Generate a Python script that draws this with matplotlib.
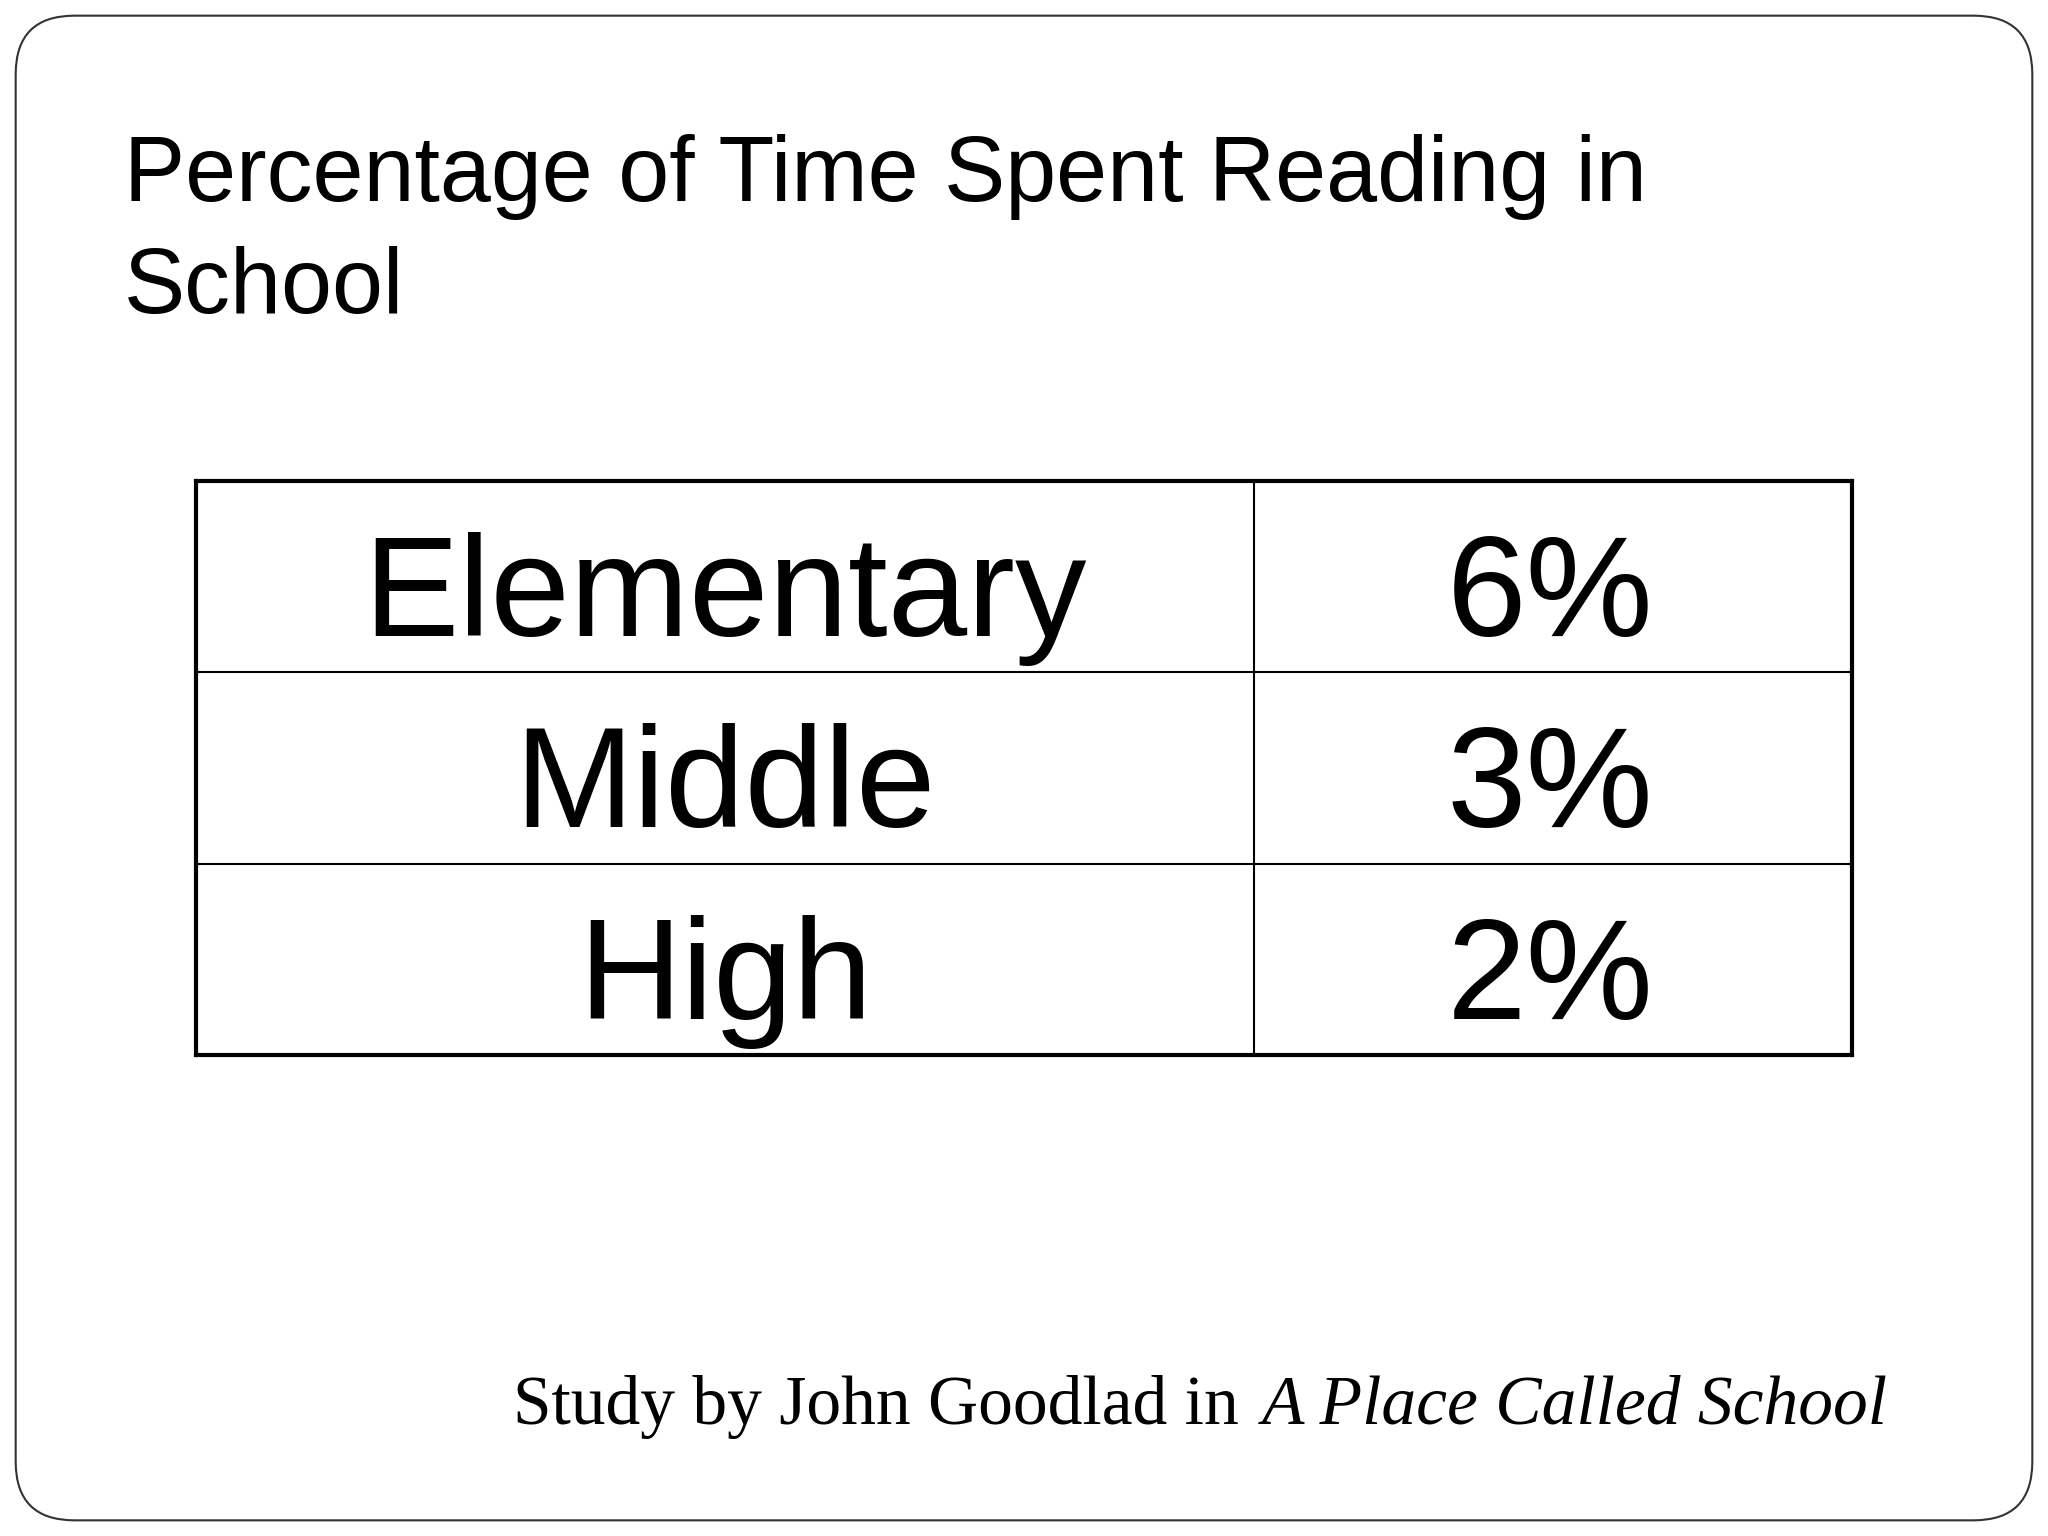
import matplotlib
matplotlib.use("Agg")
import matplotlib.pyplot as plt
from matplotlib.patches import FancyBboxPatch

title = "Percentage of Time Spent Reading in\nSchool"
categories = ["Elementary", "Middle", "High"]
values = ["6%", "3%", "2%"]
footer_plain = "Study by John Goodlad in "
footer_italic = "A Place Called School"

W, H = 1568, 1176
fig = plt.figure(figsize=(20.48, 15.36), dpi=100)
ax = fig.add_axes([0, 0, 1, 1])
ax.set_xlim(0, W); ax.set_ylim(H, 0); ax.axis("off")

ax.add_patch(FancyBboxPatch((12, 12), W - 24, H - 24, boxstyle="round,pad=0,rounding_size=45",
                            fc="white", ec="#333333", lw=1.5))

ax.text(95, 240, title, fontsize=66, family=["Liberation Sans Narrow", "Liberation Sans"],
        va="baseline", ha="left", linespacing=1.4)

x0, x1, xs = 150, 1418, 960
y0, y1 = 368, 808
rh = (y1 - y0) / len(categories)
for i in range(len(categories) + 1):
    y = y0 + i * rh
    lw = 3 if i in (0, len(categories)) else 1.5
    ax.plot([x0, x1], [y, y], color="black", lw=lw, solid_capstyle="butt")
ax.plot([x0, x0], [y0, y1], color="black", lw=3)
ax.plot([x1, x1], [y0, y1], color="black", lw=3)
ax.plot([xs, xs], [y0, y1], color="black", lw=1.5)
for i, (c, v) in enumerate(zip(categories, values)):
    yb = y0 + (i + 1) * rh - 28
    ax.text((x0 + xs) / 2, yb, c, fontsize=103, family="Liberation Sans", ha="center", va="baseline")
    ax.text((xs + x1) / 2 - 2, yb, v, fontsize=103, family="Liberation Sans", ha="center", va="baseline")

t2 = ax.text(1445, 1090, footer_italic, fontsize=50, family="Liberation Serif", style="italic",
             ha="right", va="baseline")
fig.canvas.draw()
bb = t2.get_window_extent()
xl = ax.transData.inverted().transform((bb.x0, bb.y0))[0]
ax.text(xl - 4, 1090, footer_plain, fontsize=50, family="Liberation Serif", ha="right", va="baseline")

fig.savefig("out.png", dpi=100, facecolor="white")
